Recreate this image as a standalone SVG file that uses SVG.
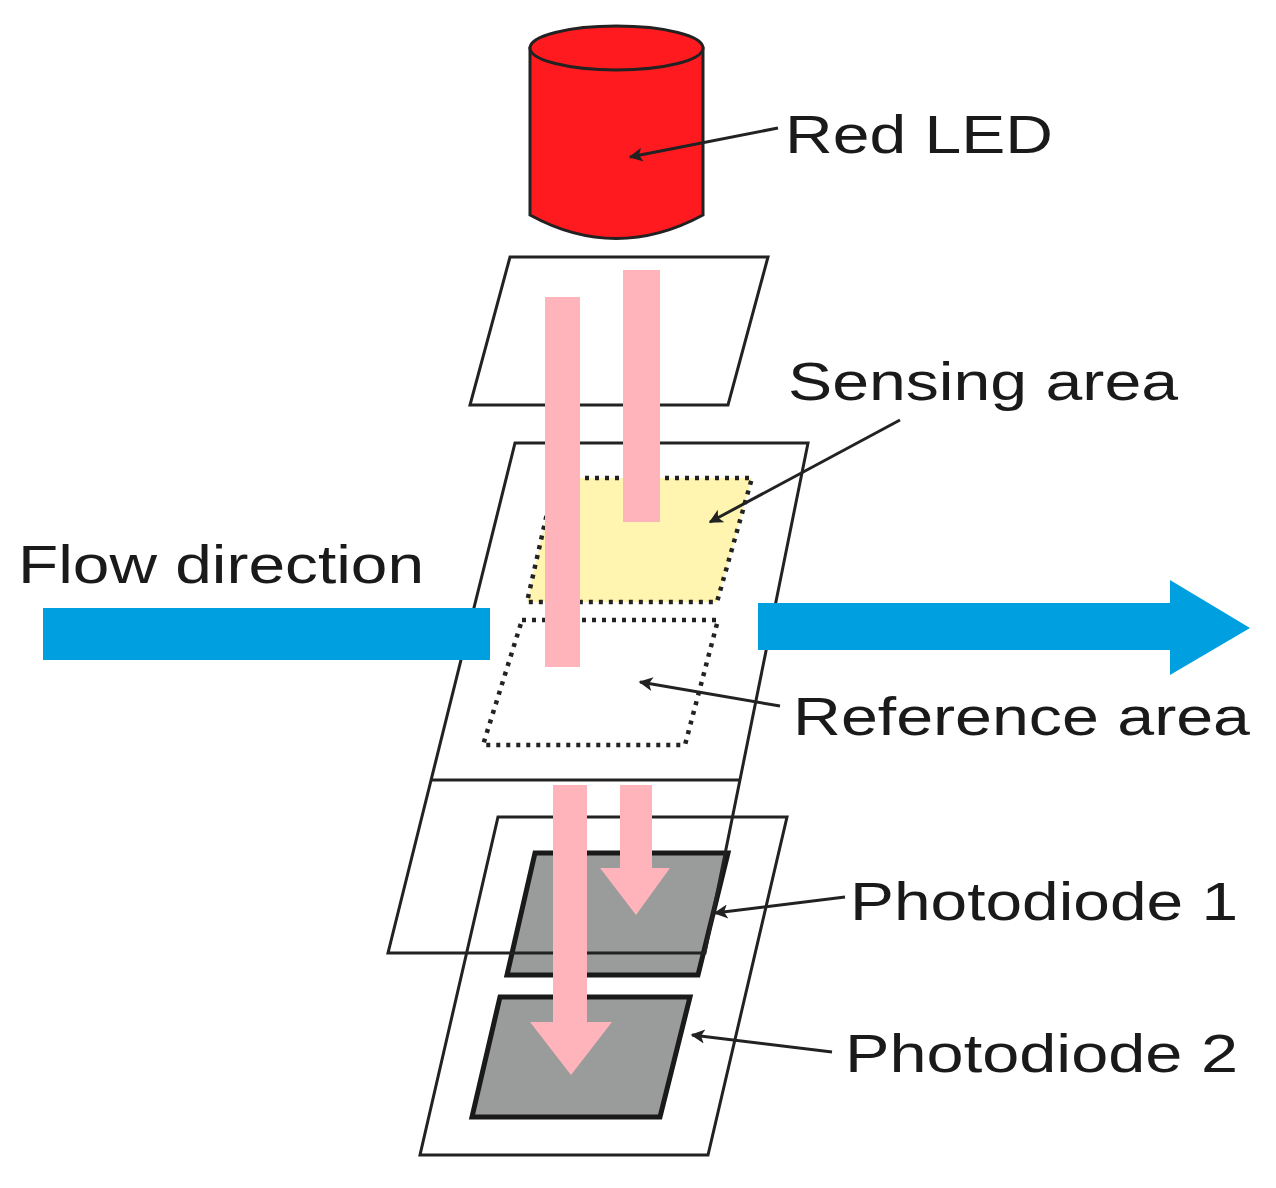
<svg xmlns="http://www.w3.org/2000/svg" width="1276" height="1188" viewBox="0 0 1276 1188">
<defs>
<style>
.t{font-family:"Liberation Sans",Arial,sans-serif;font-size:54px;fill:#1a1a1a}
.pl{fill:none;stroke:#222;stroke-width:3}
.pd{fill:#999c9b;stroke:#1a1a1a;stroke-width:5}
.beam{fill:#ffb3bb}
.ld{stroke:#222;stroke-width:3;fill:none;marker-end:url(#ah)}
.dot{stroke:#222;stroke-width:4.5;stroke-dasharray:4,6}
</style>
<marker id="ah" viewBox="0 0 10 10" refX="9" refY="5" markerWidth="22" markerHeight="14" orient="auto" markerUnits="userSpaceOnUse"><path d="M0,0 L10,5 L0,10 L2.5,5 z" fill="#222"/></marker>
</defs>
<rect width="1276" height="1188" fill="#fff"/>
<g id="led">
<path d="M530,48 L530,215 Q616,262 703,215 L703,48 Z" fill="#ff1a1f" stroke="#222" stroke-width="3"/>
<ellipse cx="616.5" cy="48" rx="86.5" ry="22" fill="#ff1a1f" stroke="#222" stroke-width="3"/>
</g>
<g id="top-plate"><polygon class="pl" points="510,257 768,257 728,405 470,405" fill="#fff"/></g>
<g id="bottom-plate">
<polygon class="pl" points="498,817 787,817 708,1155 420,1155"/>
<polygon class="pd" points="535,853 728,853 698,975 507,975"/>
<polygon class="pd" points="500,997 690,997 660,1117 472,1117"/>
</g>
<g id="middle-plate">
<polygon points="515,443 808,443 740,780 431,780" fill="#fff"/>
<polygon class="pl" points="515,443 808,443 705,953 388,953"/>
<line x1="431" y1="780" x2="740" y2="780" stroke="#222" stroke-width="3"/>
<polygon class="dot" points="555,478 752,478 717,602 527,602" fill="#fff5b0"/>
<polygon class="dot" points="522,620 718,620 685,745 483,745" fill="none"/>
</g>
<g id="beams">
<rect class="beam" x="545" y="297" width="35" height="370"/>
<rect class="beam" x="623" y="270" width="37" height="252"/>
<polygon class="beam" points="620,785 652,785 652,868 670,868 636,915 600,868 620,868"/>
<polygon class="beam" points="553,785 587,785 587,1022 612,1022 571,1075 530,1022 553,1022"/>
</g>
<g id="flow">
<rect x="43" y="608" width="447" height="52" fill="#00a0e0"/>
<polygon points="758,603 1170,603 1170,580 1250,628 1170,675 1170,650 758,650" fill="#00a0e0"/>
</g>
<g id="connectors">
<line class="ld" x1="778" y1="128" x2="630" y2="157"/>
<line class="ld" x1="900" y1="420" x2="710" y2="522"/>
<line class="ld" x1="780" y1="706" x2="640" y2="682"/>
<line class="ld" x1="845" y1="897" x2="715" y2="913"/>
<line class="ld" x1="832" y1="1052" x2="692" y2="1035"/>
</g>
<g id="labels">
<text class="t" x="785" y="153" textLength="268" lengthAdjust="spacingAndGlyphs">Red LED</text>
<text class="t" x="788" y="400" textLength="390" lengthAdjust="spacingAndGlyphs">Sensing area</text>
<text class="t" x="18" y="583" textLength="406" lengthAdjust="spacingAndGlyphs">Flow direction</text>
<text class="t" x="793" y="735" textLength="457" lengthAdjust="spacingAndGlyphs">Reference area</text>
<text class="t" x="850" y="920" textLength="388" lengthAdjust="spacingAndGlyphs">Photodiode 1</text>
<text class="t" x="845" y="1072" textLength="393" lengthAdjust="spacingAndGlyphs">Photodiode 2</text>
</g>
</svg>
